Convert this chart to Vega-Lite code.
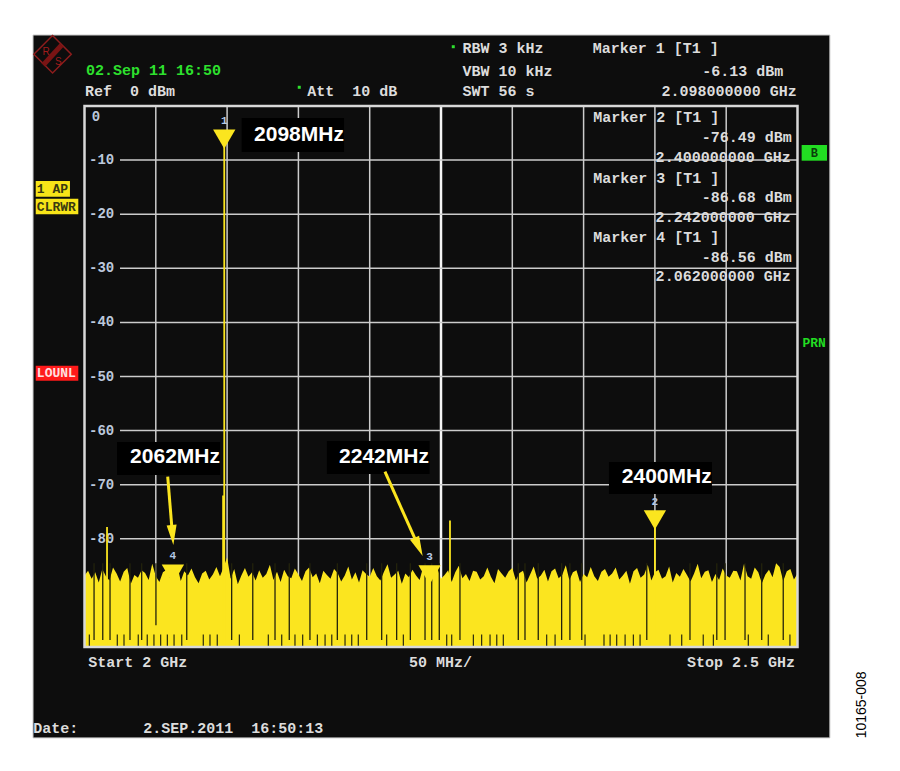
{
  "$schema": "https://vega.github.io/schema/vega-lite/v6.json",
  "width": 713,
  "height": 541,
  "autosize": {"type": "none"},
  "padding": {"left": 84.5, "top": 106, "right": 102.5, "bottom": 124},
  "background": "#ffffff",
  "config": {
    "view": {"stroke": null},
    "text": {"font": "Liberation Mono", "fontWeight": "bold", "fontSize": 15, "baseline": "middle", "color": "#dcdcdc"}
  },
  "datasets": {
    "panel": [{"x": 1963.9, "x2": 2522.7, "y": 13.12, "y2": -116.8}],
    "noise": [
      {"f": 2000, "v": -86.8}, {"f": 2002.5, "v": -85.9}, {"f": 2005, "v": -87.4}, {"f": 2007.5, "v": -86.2}, {"f": 2010, "v": -88.1},
      {"f": 2012.5, "v": -85.6}, {"f": 2015, "v": -86.9}, {"f": 2017.5, "v": -87.7}, {"f": 2020, "v": -85.3}, {"f": 2022.5, "v": -86.4},
      {"f": 2025, "v": -87.9}, {"f": 2027.5, "v": -86.1}, {"f": 2030, "v": -85.4}, {"f": 2032.5, "v": -88.3}, {"f": 2035, "v": -86.7},
      {"f": 2037.5, "v": -87.2}, {"f": 2040, "v": -85.8}, {"f": 2042.5, "v": -86.3}, {"f": 2045, "v": -87.6}, {"f": 2047.5, "v": -84.6},
      {"f": 2050, "v": -86.9}, {"f": 2052.5, "v": -88.0}, {"f": 2055, "v": -86.2}, {"f": 2057.5, "v": -85.7}, {"f": 2060, "v": -87.3},
      {"f": 2062.5, "v": -86.5}, {"f": 2065, "v": -84.9}, {"f": 2067.5, "v": -87.8}, {"f": 2070, "v": -86.0}, {"f": 2072.5, "v": -86.8},
      {"f": 2075, "v": -85.5}, {"f": 2077.5, "v": -87.1}, {"f": 2080, "v": -88.2}, {"f": 2082.5, "v": -86.4}, {"f": 2085, "v": -85.9},
      {"f": 2087.5, "v": -87.5}, {"f": 2090, "v": -86.6}, {"f": 2092.5, "v": -85.2}, {"f": 2095, "v": -86.9}, {"f": 2097.5, "v": -85.3},
      {"f": 2100, "v": -83.4}, {"f": 2102.5, "v": -87.4}, {"f": 2105, "v": -85.6}, {"f": 2107.5, "v": -88.4}, {"f": 2110, "v": -86.8},
      {"f": 2112.5, "v": -85.4}, {"f": 2115, "v": -87.0}, {"f": 2117.5, "v": -86.2}, {"f": 2120, "v": -87.7}, {"f": 2122.5, "v": -85.8},
      {"f": 2125, "v": -87.2}, {"f": 2127.5, "v": -86.5}, {"f": 2130, "v": -84.8}, {"f": 2132.5, "v": -87.6}, {"f": 2135, "v": -86.1},
      {"f": 2137.5, "v": -88.0}, {"f": 2140, "v": -85.7}, {"f": 2142.5, "v": -86.9}, {"f": 2145, "v": -87.3}, {"f": 2147.5, "v": -85.5},
      {"f": 2150, "v": -86.6}, {"f": 2152.5, "v": -87.8}, {"f": 2155, "v": -86.0}, {"f": 2157.5, "v": -85.3}, {"f": 2160, "v": -87.1},
      {"f": 2162.5, "v": -86.4}, {"f": 2165, "v": -88.2}, {"f": 2167.5, "v": -85.9}, {"f": 2170, "v": -86.7}, {"f": 2172.5, "v": -87.4},
      {"f": 2175, "v": -85.6}, {"f": 2177.5, "v": -86.3}, {"f": 2180, "v": -87.9}, {"f": 2182.5, "v": -86.8}, {"f": 2185, "v": -85.1},
      {"f": 2187.5, "v": -87.5}, {"f": 2190, "v": -86.2}, {"f": 2192.5, "v": -88.1}, {"f": 2195, "v": -85.8}, {"f": 2197.5, "v": -86.5},
      {"f": 2200, "v": -87.0}, {"f": 2202.5, "v": -85.4}, {"f": 2205, "v": -86.9}, {"f": 2207.5, "v": -87.7}, {"f": 2210, "v": -86.1},
      {"f": 2212.5, "v": -84.7}, {"f": 2215, "v": -87.2}, {"f": 2217.5, "v": -86.6}, {"f": 2220, "v": -85.9}, {"f": 2222.5, "v": -88.3},
      {"f": 2225, "v": -86.4}, {"f": 2227.5, "v": -87.1}, {"f": 2230, "v": -85.7}, {"f": 2232.5, "v": -86.8}, {"f": 2235, "v": -87.6},
      {"f": 2237.5, "v": -85.2}, {"f": 2240, "v": -86.0}, {"f": 2242.5, "v": -87.9}, {"f": 2245, "v": -86.3}, {"f": 2247.5, "v": -85.5},
      {"f": 2250, "v": -87.4}, {"f": 2252.5, "v": -86.7}, {"f": 2255, "v": -85.8}, {"f": 2257.5, "v": -88.0}, {"f": 2260, "v": -86.2},
      {"f": 2262.5, "v": -85.0}, {"f": 2265, "v": -87.3}, {"f": 2267.5, "v": -86.5}, {"f": 2270, "v": -87.8}, {"f": 2272.5, "v": -85.9},
      {"f": 2275, "v": -86.1}, {"f": 2277.5, "v": -87.5}, {"f": 2280, "v": -86.9}, {"f": 2282.5, "v": -85.3}, {"f": 2285, "v": -87.0},
      {"f": 2287.5, "v": -88.2}, {"f": 2290, "v": -85.6}, {"f": 2292.5, "v": -86.4}, {"f": 2295, "v": -87.2}, {"f": 2297.5, "v": -86.0},
      {"f": 2300, "v": -85.4}, {"f": 2302.5, "v": -87.7}, {"f": 2305, "v": -86.3}, {"f": 2307.5, "v": -85.9}, {"f": 2310, "v": -88.1},
      {"f": 2312.5, "v": -86.6}, {"f": 2315, "v": -85.1}, {"f": 2317.5, "v": -87.4}, {"f": 2320, "v": -86.8}, {"f": 2322.5, "v": -85.7},
      {"f": 2325, "v": -87.9}, {"f": 2327.5, "v": -86.0}, {"f": 2330, "v": -85.5}, {"f": 2332.5, "v": -87.3}, {"f": 2335, "v": -86.7},
      {"f": 2337.5, "v": -84.9}, {"f": 2340, "v": -87.6}, {"f": 2342.5, "v": -86.2}, {"f": 2345, "v": -85.8}, {"f": 2347.5, "v": -88.0},
      {"f": 2350, "v": -86.5}, {"f": 2352.5, "v": -87.1}, {"f": 2355, "v": -85.2}, {"f": 2357.5, "v": -86.9}, {"f": 2360, "v": -87.8},
      {"f": 2362.5, "v": -86.1}, {"f": 2365, "v": -85.6}, {"f": 2367.5, "v": -87.0}, {"f": 2370, "v": -86.4}, {"f": 2372.5, "v": -85.3},
      {"f": 2375, "v": -87.5}, {"f": 2377.5, "v": -86.8}, {"f": 2380, "v": -85.9}, {"f": 2382.5, "v": -88.3}, {"f": 2385, "v": -86.0},
      {"f": 2387.5, "v": -85.4}, {"f": 2390, "v": -87.2}, {"f": 2392.5, "v": -86.6}, {"f": 2395, "v": -84.8}, {"f": 2397.5, "v": -87.7},
      {"f": 2400, "v": -86.2}, {"f": 2402.5, "v": -85.7}, {"f": 2405, "v": -87.4}, {"f": 2407.5, "v": -86.9}, {"f": 2410, "v": -85.1},
      {"f": 2412.5, "v": -88.1}, {"f": 2415, "v": -86.3}, {"f": 2417.5, "v": -87.0}, {"f": 2420, "v": -85.6}, {"f": 2422.5, "v": -86.7},
      {"f": 2425, "v": -87.9}, {"f": 2427.5, "v": -86.4}, {"f": 2430, "v": -84.6}, {"f": 2432.5, "v": -87.3}, {"f": 2435, "v": -86.1},
      {"f": 2437.5, "v": -85.8}, {"f": 2440, "v": -88.0}, {"f": 2442.5, "v": -86.5}, {"f": 2445, "v": -87.6}, {"f": 2447.5, "v": -85.5},
      {"f": 2450, "v": -86.8}, {"f": 2452.5, "v": -87.2}, {"f": 2455, "v": -85.9}, {"f": 2457.5, "v": -86.0}, {"f": 2460, "v": -87.7},
      {"f": 2462.5, "v": -84.6}, {"f": 2465, "v": -86.9}, {"f": 2467.5, "v": -87.4}, {"f": 2470, "v": -85.3}, {"f": 2472.5, "v": -86.2},
      {"f": 2475, "v": -88.2}, {"f": 2477.5, "v": -86.6}, {"f": 2480, "v": -85.7}, {"f": 2482.5, "v": -87.1}, {"f": 2485, "v": -84.5},
      {"f": 2487.5, "v": -85.2}, {"f": 2490, "v": -87.8}, {"f": 2492.5, "v": -86.0}, {"f": 2495, "v": -85.6}, {"f": 2497.5, "v": -87.5},
      {"f": 2500, "v": -86.4}
    ],
    "spikes": [
      {"f": 2015.8, "v": -77.8}, {"f": 2097.2, "v": -72.0}, {"f": 2098, "v": -6.13},
      {"f": 2256.3, "v": -76.6}, {"f": 2400, "v": -76.49}
    ],
    "dips": [
      {"f": 2006.7, "lo": -98.7}, {"f": 2012.8, "lo": -98.7}, {"f": 2017.9, "lo": -98.7}, {"f": 2031.9, "lo": -98.7},
      {"f": 2040.1, "lo": -98.7}, {"f": 2050.1, "lo": -96.0}, {"f": 2071.7, "lo": -98.7}, {"f": 2103.2, "lo": -98.7},
      {"f": 2118.0, "lo": -98.7}, {"f": 2133.6, "lo": -98.7}, {"f": 2143.6, "lo": -98.7}, {"f": 2158.1, "lo": -98.7},
      {"f": 2177.3, "lo": -98.7}, {"f": 2197.9, "lo": -98.7}, {"f": 2208.4, "lo": -98.7}, {"f": 2218.9, "lo": -98.7},
      {"f": 2228.5, "lo": -98.7}, {"f": 2238.8, "lo": -98.7}, {"f": 2243.5, "lo": -98.7}, {"f": 2248.8, "lo": -98.7},
      {"f": 2263.3, "lo": -98.7}, {"f": 2304.2, "lo": -98.7}, {"f": 2308.9, "lo": -98.7}, {"f": 2318.2, "lo": -98.7},
      {"f": 2334.6, "lo": -98.7}, {"f": 2340.4, "lo": -98.7}, {"f": 2348.7, "lo": -98.7}, {"f": 2394.3, "lo": -98.7},
      {"f": 2424.6, "lo": -98.7}, {"f": 2443.4, "lo": -98.7}, {"f": 2449.2, "lo": -98.7}, {"f": 2463.2, "lo": -98.7},
      {"f": 2474.9, "lo": -98.7}, {"f": 2490.0, "lo": -98.7}
    ],
    "ticks": [
      {"f": 2003.4}, {"f": 2023.0}, {"f": 2027.7}, {"f": 2037.7}, {"f": 2044.0}, {"f": 2048.7}, {"f": 2053.4}, {"f": 2058.1},
      {"f": 2062.8}, {"f": 2068.2}, {"f": 2083.3}, {"f": 2088.0}, {"f": 2093.1}, {"f": 2108.6}, {"f": 2128.9}, {"f": 2138.3},
      {"f": 2147.6}, {"f": 2153.0}, {"f": 2163.3}, {"f": 2168.7}, {"f": 2173.4}, {"f": 2182.7}, {"f": 2187.4}, {"f": 2192.0},
      {"f": 2211.9}, {"f": 2223.6}, {"f": 2254.0}, {"f": 2257.5}, {"f": 2272.7}, {"f": 2278.5}, {"f": 2284.4}, {"f": 2289.1},
      {"f": 2293.7}, {"f": 2324.1}, {"f": 2330.0}, {"f": 2351.0}, {"f": 2364.3}, {"f": 2368.6}, {"f": 2373.2}, {"f": 2379.1},
      {"f": 2384.9}, {"f": 2389.6}, {"f": 2410.6}, {"f": 2418.8}, {"f": 2433.9}, {"f": 2441.0}, {"f": 2465.5}, {"f": 2479.5},
      {"f": 2494.7}
    ],
    "boxes": [
      {"x": 2110.2, "x2": 2182.0, "y": -2.22, "y2": -8.5},
      {"x": 2022.8, "x2": 2095.1, "y": -62.1, "y2": -68.2},
      {"x": 2170.0, "x2": 2242.0, "y": -61.9, "y2": -68.0},
      {"x": 2367.8, "x2": 2440.0, "y": -65.8, "y2": -71.7}
    ],
    "flabels": [
      {"x": 2150.4, "y": -5.36, "t": "2098MHz"},
      {"x": 2063.5, "y": -64.9, "t": "2062MHz"},
      {"x": 2210.0, "y": -64.9, "t": "2242MHz"},
      {"x": 2408.3, "y": -68.5, "t": "2400MHz"}
    ],
    "arrows": [
      {"x": 2058.35, "y": -68.52, "x2": 2061.7, "y2": -79.3},
      {"x": 2210.7, "y": -67.6, "x2": 2234.3, "y2": -81.5}
    ],
    "markers": [
      {"f": 2098, "v": -6.13, "n": "1"},
      {"f": 2400, "v": -76.49, "n": "2"},
      {"f": 2242, "v": -86.68, "n": "3"},
      {"f": 2062, "v": -86.56, "n": "4"}
    ],
    "ltext": [
      {"x": 2265.1, "y": 10.67, "t": "RBW 3 kHz"},
      {"x": 2356.4, "y": 10.67, "t": "Marker 1 [T1 ]"},
      {"x": 2265.1, "y": 6.56, "t": "VBW 10 kHz"},
      {"x": 2000.35, "y": 2.77, "t": "Ref\u00a0\u00a00 dBm"},
      {"x": 2156.2, "y": 2.77, "t": "Att\u00a0\u00a010 dB"},
      {"x": 2265.1, "y": 2.77, "t": "SWT 56 s"},
      {"x": 2356.8, "y": -1.97, "t": "Marker 2 [T1 ]"},
      {"x": 2356.8, "y": -13.25, "t": "Marker 3 [T1 ]"},
      {"x": 2356.8, "y": -24.16, "t": "Marker 4 [T1 ]"},
      {"x": 2002.7, "y": -102.7, "t": "Start 2 GHz"},
      {"x": 2227.6, "y": -102.7, "t": "50 MHz/"},
      {"x": 1964.1, "y": -115.0, "t": "Date:"},
      {"x": 2041.2, "y": -115.0, "t": "2.SEP.2011\u00a0\u00a016:50:13"}
    ],
    "rtext": [
      {"x": 2490.0, "y": 6.56, "t": "-6.13 dBm"},
      {"x": 2499.4, "y": 2.77, "t": "2.098000000 GHz"},
      {"x": 2495.9, "y": -5.73, "t": "-76.49 dBm"},
      {"x": 2495.2, "y": -9.43, "t": "2.400000000 GHz"},
      {"x": 2495.9, "y": -16.82, "t": "-86.68 dBm"},
      {"x": 2495.2, "y": -20.52, "t": "2.242000000 GHz"},
      {"x": 2495.9, "y": -27.91, "t": "-86.56 dBm"},
      {"x": 2495.2, "y": -31.42, "t": "2.062000000 GHz"},
      {"x": 2498.2, "y": -102.7, "t": "Stop 2.5 GHz"}
    ]
  },
  "layer": [
    {
      "data": {"name": "panel"},
      "mark": {"type": "rect", "fill": "#0d0d0d", "stroke": "#c8c8c8", "strokeWidth": 1},
      "encoding": {
        "x": {"field": "x", "type": "quantitative", "scale": {"domain": [2000, 2500], "nice": false, "zero": false}, "axis": null},
        "x2": {"field": "x2"},
        "y": {"field": "y", "type": "quantitative", "scale": {"domain": [-100, 0], "nice": false, "zero": false}, "axis": null},
        "y2": {"field": "y2"}
      }
    },
    {
      "data": {"values": [{"g": 2050}, {"g": 2100}, {"g": 2150}, {"g": 2200}, {"g": 2300}, {"g": 2350}, {"g": 2400}, {"g": 2450}]},
      "mark": {"type": "rule", "color": "#cccccc", "strokeWidth": 1.5},
      "encoding": {
        "x": {"field": "g", "type": "quantitative", "axis": null},
        "y": {"datum": 0, "type": "quantitative", "axis": null},
        "y2": {"datum": -100}
      }
    },
    {
      "data": {"values": [{"g": 2250}]},
      "mark": {"type": "rule", "color": "#f4f4f4", "strokeWidth": 2.5},
      "encoding": {
        "x": {"field": "g", "type": "quantitative", "axis": null},
        "y": {"datum": 0, "type": "quantitative", "axis": null},
        "y2": {"datum": -100}
      }
    },
    {
      "data": {"values": [{"g": -10}, {"g": -20}, {"g": -30}, {"g": -40}, {"g": -50}, {"g": -60}, {"g": -70}, {"g": -80}, {"g": -90}]},
      "mark": {"type": "rule", "color": "#cccccc", "strokeWidth": 1.5},
      "encoding": {
        "y": {"field": "g", "type": "quantitative", "axis": null},
        "x": {"datum": 2024.9, "type": "quantitative", "axis": null},
        "x2": {"datum": 2500}
      }
    },
    {
      "data": {"values": [{"g": -10, "t": "-10"}, {"g": -20, "t": "-20"}, {"g": -30, "t": "-30"}, {"g": -40, "t": "-40"}, {"g": -50, "t": "-50"}, {"g": -60, "t": "-60"}, {"g": -70, "t": "-70"}, {"g": -80, "t": "-80"}]},
      "mark": {"type": "text", "align": "left", "fontSize": 14, "color": "#bcc8dc"},
      "encoding": {
        "x": {"datum": 2003.2, "type": "quantitative", "axis": null},
        "y": {"field": "g", "type": "quantitative", "axis": null},
        "text": {"field": "t", "type": "nominal"}
      }
    },
    {
      "data": {"values": [{"g": -1.98, "t": "0"}]},
      "mark": {"type": "text", "align": "center", "fontSize": 14, "color": "#bcc8dc"},
      "encoding": {
        "x": {"datum": 2008.1, "type": "quantitative", "axis": null},
        "y": {"field": "g", "type": "quantitative", "axis": null},
        "text": {"field": "t", "type": "nominal"}
      }
    },
    {
      "data": {"name": "noise"},
      "mark": {"type": "area", "color": "#fbe51f", "interpolate": "linear"},
      "encoding": {
        "x": {"field": "f", "type": "quantitative", "axis": null},
        "y": {"field": "v", "type": "quantitative", "axis": null},
        "y2": {"datum": -100}
      }
    },
    {
      "data": {"name": "spikes"},
      "mark": {"type": "rule", "color": "#fbe51f", "strokeWidth": 1.8},
      "encoding": {
        "x": {"field": "f", "type": "quantitative", "axis": null},
        "y": {"field": "v", "type": "quantitative", "axis": null},
        "y2": {"datum": -100}
      }
    },
    {
      "data": {"name": "dips"},
      "mark": {"type": "rule", "color": "#23230c", "strokeWidth": 1.3},
      "encoding": {
        "x": {"field": "f", "type": "quantitative", "axis": null},
        "y": {"field": "lo", "type": "quantitative", "axis": null},
        "y2": {"datum": -84.5}
      }
    },
    {
      "data": {"name": "ticks"},
      "mark": {"type": "rule", "color": "#2a2a0e", "strokeWidth": 1.2},
      "encoding": {
        "x": {"field": "f", "type": "quantitative", "axis": null},
        "y": {"datum": -100, "type": "quantitative", "axis": null},
        "y2": {"datum": -97.7}
      }
    },
    {
      "data": {"values": [{"x": 2000, "x2": 2500, "y": 0, "y2": -100}]},
      "mark": {"type": "rect", "fillOpacity": 0, "stroke": "#d8d8d8", "strokeWidth": 2.5},
      "encoding": {
        "x": {"field": "x", "type": "quantitative", "axis": null},
        "x2": {"field": "x2"},
        "y": {"field": "y", "type": "quantitative", "axis": null},
        "y2": {"field": "y2"}
      }
    },
    {
      "data": {"name": "boxes"},
      "mark": {"type": "rect", "fill": "#000000"},
      "encoding": {
        "x": {"field": "x", "type": "quantitative", "axis": null},
        "x2": {"field": "x2"},
        "y": {"field": "y", "type": "quantitative", "axis": null},
        "y2": {"field": "y2"}
      }
    },
    {
      "data": {"name": "flabels"},
      "mark": {"type": "text", "font": "Liberation Sans", "fontWeight": "bold", "fontSize": 21, "color": "#ffffff", "align": "center"},
      "encoding": {
        "x": {"field": "x", "type": "quantitative", "axis": null},
        "y": {"field": "y", "type": "quantitative", "axis": null},
        "text": {"field": "t", "type": "nominal"}
      }
    },
    {
      "data": {"name": "arrows"},
      "mark": {"type": "rule", "color": "#fbe51f", "strokeWidth": 3},
      "encoding": {
        "x": {"field": "x", "type": "quantitative", "axis": null},
        "y": {"field": "y", "type": "quantitative", "axis": null},
        "x2": {"field": "x2"},
        "y2": {"field": "y2"}
      }
    },
    {
      "data": {"values": [{"x": 2061.7, "y": -79.3}]},
      "mark": {"type": "point", "shape": "M-0.5,-1L0.5,-1L0,1Z", "size": 400, "filled": true, "color": "#fbe51f", "opacity": 1, "angle": -5},
      "encoding": {
        "x": {"field": "x", "type": "quantitative", "axis": null},
        "y": {"field": "y", "type": "quantitative", "axis": null}
      }
    },
    {
      "data": {"values": [{"x": 2234.3, "y": -81.5}]},
      "mark": {"type": "point", "shape": "M-0.5,-1L0.5,-1L0,1Z", "size": 400, "filled": true, "color": "#fbe51f", "opacity": 1, "angle": -24},
      "encoding": {
        "x": {"field": "x", "type": "quantitative", "axis": null},
        "y": {"field": "y", "type": "quantitative", "axis": null}
      }
    },
    {
      "data": {"name": "markers"},
      "mark": {"type": "point", "shape": "triangle-down", "size": 500, "filled": true, "color": "#fbe51f", "opacity": 1},
      "encoding": {
        "x": {"field": "f", "type": "quantitative", "axis": null},
        "y": {"field": "v", "type": "quantitative", "axis": null}
      }
    },
    {
      "data": {"name": "markers"},
      "mark": {"type": "text", "fontSize": 11, "color": "#b4c8e6", "dy": -18, "align": "center"},
      "encoding": {
        "x": {"field": "f", "type": "quantitative", "axis": null},
        "y": {"field": "v", "type": "quantitative", "axis": null},
        "text": {"field": "n", "type": "nominal"}
      }
    },
    {
      "data": {"name": "ltext"},
      "mark": {"type": "text", "align": "left"},
      "encoding": {
        "x": {"field": "x", "type": "quantitative", "axis": null},
        "y": {"field": "y", "type": "quantitative", "axis": null},
        "text": {"field": "t", "type": "nominal"}
      }
    },
    {
      "data": {"name": "rtext"},
      "mark": {"type": "text", "align": "right"},
      "encoding": {
        "x": {"field": "x", "type": "quantitative", "axis": null},
        "y": {"field": "y", "type": "quantitative", "axis": null},
        "text": {"field": "t", "type": "nominal"}
      }
    },
    {
      "data": {"values": [{"x": 2001.05, "y": 6.65, "t": "02.Sep 11 16:50"}]},
      "mark": {"type": "text", "align": "left", "color": "#2ee02e"},
      "encoding": {
        "x": {"field": "x", "type": "quantitative", "axis": null},
        "y": {"field": "y", "type": "quantitative", "axis": null},
        "text": {"field": "t", "type": "nominal"}
      }
    },
    {
      "data": {"values": [{"x": 2258.6, "y": 10.96}, {"x": 2150.6, "y": 3.46}]},
      "mark": {"type": "point", "shape": "square", "size": 9, "filled": true, "color": "#2ee02e", "opacity": 1},
      "encoding": {
        "x": {"field": "x", "type": "quantitative", "axis": null},
        "y": {"field": "y", "type": "quantitative", "axis": null}
      }
    },
    {
      "data": {"values": [{"x": 1965.8, "x2": 1989.8, "y": -13.86, "y2": -16.77}, {"x": 1965.8, "x2": 1995.65, "y": -17.14, "y2": -20.02}]},
      "mark": {"type": "rect", "fill": "#f7e418"},
      "encoding": {
        "x": {"field": "x", "type": "quantitative", "axis": null},
        "x2": {"field": "x2"},
        "y": {"field": "y", "type": "quantitative", "axis": null},
        "y2": {"field": "y2"}
      }
    },
    {
      "data": {"values": [{"x": 1966.6, "y": -15.3, "t": "1 AP"}, {"x": 1966.6, "y": -18.58, "t": "CLRWR"}]},
      "mark": {"type": "text", "align": "left", "fontSize": 13, "color": "#3a3a10"},
      "encoding": {
        "x": {"field": "x", "type": "quantitative", "axis": null},
        "y": {"field": "y", "type": "quantitative", "axis": null},
        "text": {"field": "t", "type": "nominal"}
      }
    },
    {
      "data": {"values": [{"x": 1965.8, "x2": 1995.65, "y": -48.0, "y2": -50.78}]},
      "mark": {"type": "rect", "fill": "#ff1a1a"},
      "encoding": {
        "x": {"field": "x", "type": "quantitative", "axis": null},
        "x2": {"field": "x2"},
        "y": {"field": "y", "type": "quantitative", "axis": null},
        "y2": {"field": "y2"}
      }
    },
    {
      "data": {"values": [{"x": 1966.6, "y": -49.4, "t": "LOUNL"}]},
      "mark": {"type": "text", "align": "left", "fontSize": 13, "color": "#ffe0e0"},
      "encoding": {
        "x": {"field": "x", "type": "quantitative", "axis": null},
        "y": {"field": "y", "type": "quantitative", "axis": null},
        "text": {"field": "t", "type": "nominal"}
      }
    },
    {
      "data": {"values": [{"x": 2502.9, "x2": 2520.7, "y": -7.21, "y2": -10.11}]},
      "mark": {"type": "rect", "fill": "#22dd22"},
      "encoding": {
        "x": {"field": "x", "type": "quantitative", "axis": null},
        "x2": {"field": "x2"},
        "y": {"field": "y", "type": "quantitative", "axis": null},
        "y2": {"field": "y2"}
      }
    },
    {
      "data": {"values": [{"x": 2511.8, "y": -8.66, "t": "B"}]},
      "mark": {"type": "text", "align": "center", "fontSize": 12, "color": "#0b3d0b"},
      "encoding": {
        "x": {"field": "x", "type": "quantitative", "axis": null},
        "y": {"field": "y", "type": "quantitative", "axis": null},
        "text": {"field": "t", "type": "nominal"}
      }
    },
    {
      "data": {"values": [{"x": 2511.7, "y": -43.75, "t": "PRN"}]},
      "mark": {"type": "text", "align": "center", "fontSize": 13, "color": "#22dd22"},
      "encoding": {
        "x": {"field": "x", "type": "quantitative", "axis": null},
        "y": {"field": "y", "type": "quantitative", "axis": null},
        "text": {"field": "t", "type": "nominal"}
      }
    },
    {
      "data": {"values": [{"x": 1977.6, "y": 9.57}]},
      "mark": {"type": "point", "shape": "diamond", "size": 1400, "filled": false, "stroke": "#8c1c1c", "strokeWidth": 1.5, "opacity": 1},
      "encoding": {
        "x": {"field": "x", "type": "quantitative", "axis": null},
        "y": {"field": "y", "type": "quantitative", "axis": null}
      }
    },
    {
      "data": {"values": [{"x": 1984.0, "y": 11.28, "x2": 1971.1, "y2": 7.58}]},
      "mark": {"type": "rule", "color": "#7a1414", "strokeWidth": 5},
      "encoding": {
        "x": {"field": "x", "type": "quantitative", "axis": null},
        "y": {"field": "y", "type": "quantitative", "axis": null},
        "x2": {"field": "x2"},
        "y2": {"field": "y2"}
      }
    },
    {
      "data": {"values": [{"x": 1973.0, "y": 9.9, "t": "R"}, {"x": 1981.6, "y": 8.19, "t": "S"}]},
      "mark": {"type": "text", "align": "center", "fontSize": 10, "fontWeight": "normal", "color": "#a01c1c", "font": "Liberation Sans"},
      "encoding": {
        "x": {"field": "x", "type": "quantitative", "axis": null},
        "y": {"field": "y", "type": "quantitative", "axis": null},
        "text": {"field": "t", "type": "nominal"}
      }
    },
    {
      "data": {"values": [{"x": 2545.0, "y": -110.7, "t": "10165-008"}]},
      "mark": {"type": "text", "align": "center", "angle": 270, "fontSize": 14, "fontWeight": "normal", "color": "#000000", "font": "Liberation Sans"},
      "encoding": {
        "x": {"field": "x", "type": "quantitative", "axis": null},
        "y": {"field": "y", "type": "quantitative", "axis": null},
        "text": {"field": "t", "type": "nominal"}
      }
    }
  ]
}
